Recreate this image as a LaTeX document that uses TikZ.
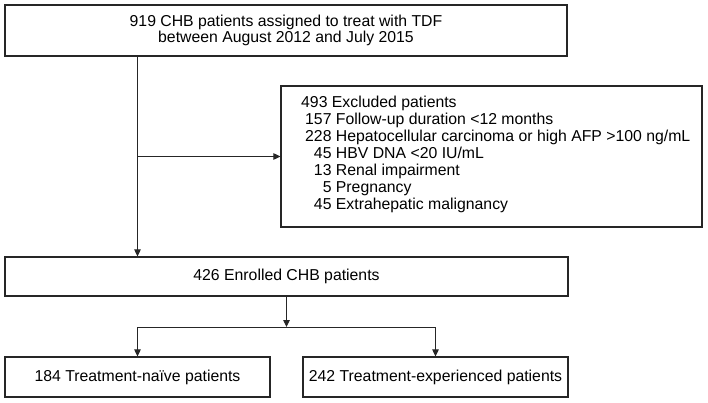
\documentclass[tikz,border=0pt]{standalone}
\usepackage{fontspec}
\setmainfont{Liberation Sans}
\usetikzlibrary{arrows.meta}

\begin{document}
\begin{tikzpicture}[x=1pt,y=-1pt,
        box/.style={draw=black!85,line width=1.1pt,rectangle,inner sep=0pt,align=center},
        link/.style={draw=black!85,line width=0.9pt},
        arr/.style={link,-{Triangle[length=7pt,width=6.5pt]}},
        font=\fontsize{15.8}{16}\selectfont]
        \useasboundingbox (0,0) rectangle (708,403);
        % Define the nodes for the flow
        \node[box,minimum width=562pt,minimum height=51pt] (top)  at (286,30.5) {919 CHB patients assigned to treat with TDF\\between August 2012 and July 2015};
        \node[box,minimum width=421pt,minimum height=141pt] (excl) at (491.5,156.5) {};
        \node[anchor=west,inner sep=0pt,font=\fontsize{15.8}{17}\selectfont] (exclText) at (305,155) {\begin{tabular}{@{}r@{ }l@{}}
            \multicolumn{2}{@{\hspace{-4pt}}l@{}}{493 Excluded patients}\\
            157 & Follow-up duration <12 months\\
            228 & Hepatocellular carcinoma or high AFP >100 ng/mL\\
            45  & HBV DNA <20 IU/mL\\
            13  & Renal impairment\\
            5   & Pregnancy\\
            45  & Extrahepatic malignancy
        \end{tabular}};
        \node[box,minimum width=563pt,minimum height=39pt] (enr)   at (286.5,276.5) {426 Enrolled CHB patients};
        \node[box,minimum width=265pt,minimum height=40pt] (naive) at (137.5,377) {184 Treatment-naïve patients};
        \node[box,minimum width=265pt,minimum height=40pt] (exper) at (435.5,377) {242 Treatment-experienced patients};
        \coordinate (split) at (286.5,327);
        % Connect the nodes for the flow
        \draw[arr] (top.south -| naive.north) -- (enr.north -| naive.north);
        \draw[arr] (excl.west -| naive.north) -- (excl.west);
        \draw[arr] (enr.south) -- (split);
        \draw[link] (split -| naive.north) -- (split -| exper.north);
        \draw[arr] (split -| naive.north) -- (naive.north);
        \draw[arr] (split -| exper.north) -- (exper.north);
    \end{tikzpicture}
\end{document}
